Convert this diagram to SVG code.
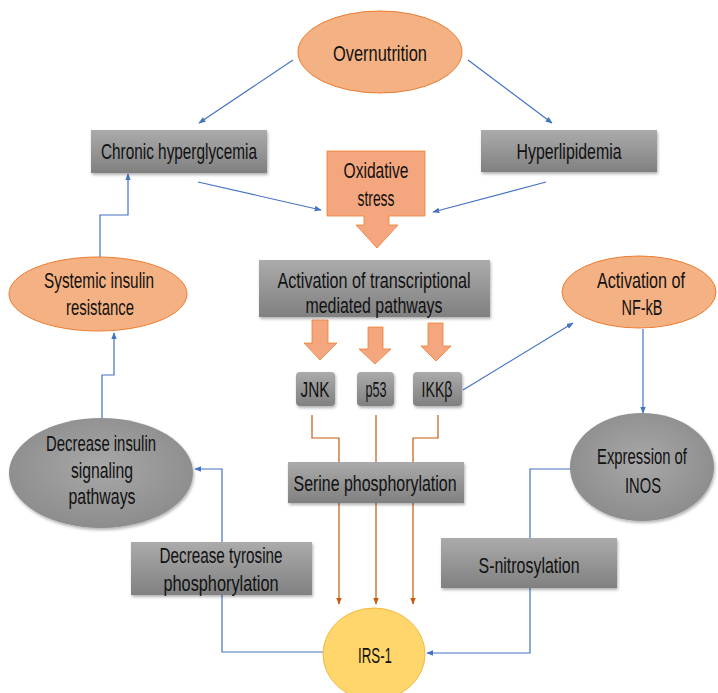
<svg xmlns="http://www.w3.org/2000/svg" width="718" height="693" viewBox="0 0 718 693">
  <defs>
    <linearGradient id="grayBox" x1="0" y1="0" x2="0" y2="1">
      <stop offset="0" stop-color="#ababab"/>
      <stop offset="1" stop-color="#808080"/>
    </linearGradient>
    <radialGradient id="grayOval" cx="0.5" cy="0.45" r="0.6">
      <stop offset="0" stop-color="#a8a8a8"/>
      <stop offset="1" stop-color="#8a8a8a"/>
    </radialGradient>
    <filter id="shadow" x="-10%" y="-10%" width="125%" height="135%">
      <feDropShadow dx="1" dy="2" stdDeviation="1.5" flood-color="#000" flood-opacity="0.3"/>
    </filter>
    <marker id="arrBlue" viewBox="0 0 10 10" refX="9" refY="5" markerWidth="7" markerHeight="7" orient="auto" markerUnits="userSpaceOnUse">
      <path d="M0,1 L10,5 L0,9 z" fill="#4472c4"/>
    </marker>
    <marker id="arrBrown" viewBox="0 0 10 10" refX="9" refY="5" markerWidth="7" markerHeight="7" orient="auto" markerUnits="userSpaceOnUse">
      <path d="M0,1 L10,5 L0,9 z" fill="#c55a11"/>
    </marker>
    <style>
      .lbl { font-family: "Liberation Sans", Arial, sans-serif; font-size: 22px; fill: #111111; text-anchor: middle; }
      .box { fill: url(#grayBox); filter: url(#shadow); }
      .goval { fill: url(#grayOval); filter: url(#shadow); }
      .salmon { fill: #f4b183; stroke: #ed7d31; stroke-width: 1; }
      .blue { fill: none; stroke: #4472c4; stroke-width: 1.2; }
      .brown { fill: none; stroke: #c55a11; stroke-width: 1.2; }
      .block { fill: #f4a67f; stroke: #ed7d31; stroke-width: 0.8; }
    </style>
  </defs>

  <rect width="718" height="693" fill="#ffffff"/>

  <!-- connectors (drawn beneath the nodes) -->
  <g id="connectors">
    <line class="blue" x1="293" y1="60" x2="199" y2="123" marker-end="url(#arrBlue)"/>
    <line class="blue" x1="468" y1="60" x2="552" y2="123" marker-end="url(#arrBlue)"/>
    <line class="blue" x1="198" y1="182" x2="321" y2="210" marker-end="url(#arrBlue)"/>
    <line class="blue" x1="546" y1="182" x2="433" y2="212" marker-end="url(#arrBlue)"/>
    <polyline class="blue" points="100,258 100,215 128,215 128,174" marker-end="url(#arrBlue)"/>
    <polyline class="blue" points="102,418 102,375 114,375 114,333" marker-end="url(#arrBlue)"/>
    <line class="blue" x1="463" y1="390" x2="573" y2="323" marker-end="url(#arrBlue)"/>
    <line class="blue" x1="643" y1="329" x2="643" y2="413" marker-end="url(#arrBlue)"/>
    <polyline class="blue" points="323,652 222,652 222,469 195,469" marker-end="url(#arrBlue)"/>
    <polyline class="blue" points="572,469 530,469 530,653 427,653" marker-end="url(#arrBlue)"/>
    <polyline class="brown" points="312,415 312,438 339,438 339,604" marker-end="url(#arrBrown)"/>
    <polyline class="brown" points="376,415 376,604" marker-end="url(#arrBrown)"/>
    <polyline class="brown" points="438,415 438,438 413,438 413,604" marker-end="url(#arrBrown)"/>
  </g>

  <g id="overnutrition">
    <ellipse class="salmon" cx="380" cy="52" rx="82" ry="41"/>
    <text class="lbl" x="380" y="61" textLength="94" lengthAdjust="spacingAndGlyphs">Overnutrition</text>
  </g>

  <g id="chronic-hyperglycemia">
    <rect class="box" x="91" y="130" width="176" height="43"/>
    <text class="lbl" x="179" y="159" textLength="156" lengthAdjust="spacingAndGlyphs">Chronic hyperglycemia</text>
  </g>

  <g id="hyperlipidemia">
    <rect class="box" x="481" y="130" width="176" height="42"/>
    <text class="lbl" x="569" y="159" textLength="105" lengthAdjust="spacingAndGlyphs">Hyperlipidemia</text>
  </g>

  <g id="oxidative-stress">
    <path class="block" d="M327,151 H425 V216 H389 V225 H398 L377,248 L356,225 H364 V216 H327 Z"/>
    <text class="lbl" x="376" y="178" textLength="65" lengthAdjust="spacingAndGlyphs">Oxidative</text>
    <text class="lbl" x="376" y="206" textLength="37" lengthAdjust="spacingAndGlyphs">stress</text>
  </g>

  <g id="transcriptional-pathways">
    <rect class="box" x="259" y="260" width="231" height="57"/>
    <text class="lbl" x="374" y="288" textLength="193" lengthAdjust="spacingAndGlyphs">Activation of transcriptional</text>
    <text class="lbl" x="374" y="313" textLength="137" lengthAdjust="spacingAndGlyphs">mediated pathways</text>
  </g>

  <g id="systemic-insulin-resistance">
    <ellipse class="salmon" cx="98" cy="294" rx="89" ry="37"/>
    <text class="lbl" x="99" y="288" textLength="110" lengthAdjust="spacingAndGlyphs">Systemic insulin</text>
    <text class="lbl" x="100" y="315" textLength="68" lengthAdjust="spacingAndGlyphs">resistance</text>
  </g>

  <g id="nf-kb">
    <ellipse class="salmon" cx="639" cy="292" rx="77" ry="36"/>
    <text class="lbl" x="641" y="288" textLength="88" lengthAdjust="spacingAndGlyphs">Activation of</text>
    <text class="lbl" x="642" y="315" textLength="41" lengthAdjust="spacingAndGlyphs">NF-kB</text>
  </g>

  <!-- three block arrows from the pathway box -->
  <g id="pathway-arrows">
    <path class="block" d="M312,320 H328 V343 H337 L320,360 L304,343 H312 Z"/>
    <path class="block" d="M368,327 H383 V349 H391 L375,364 L359,349 H368 Z"/>
    <path class="block" d="M428,323 H443 V346 H451 L436,361 L421,346 H428 Z"/>
  </g>

  <g id="jnk">
    <rect class="box" x="296" y="372" width="39" height="34" rx="4"/>
    <text class="lbl" x="315" y="397" textLength="29" lengthAdjust="spacingAndGlyphs">JNK</text>
  </g>

  <g id="p53">
    <rect class="box" x="357" y="372" width="37" height="34" rx="4"/>
    <text class="lbl" x="376" y="397" textLength="21" lengthAdjust="spacingAndGlyphs">p53</text>
  </g>

  <g id="ikkb">
    <rect class="box" x="413" y="372" width="49" height="34" rx="4"/>
    <text class="lbl" x="437" y="397" textLength="31" lengthAdjust="spacingAndGlyphs">IKKβ</text>
  </g>

  <g id="decrease-insulin-signaling">
    <ellipse class="goval" cx="101" cy="473" rx="92" ry="55"/>
    <text class="lbl" x="101" y="451" textLength="110" lengthAdjust="spacingAndGlyphs">Decrease insulin</text>
    <text class="lbl" x="102" y="478" textLength="62" lengthAdjust="spacingAndGlyphs">signaling</text>
    <text class="lbl" x="102" y="504" textLength="67" lengthAdjust="spacingAndGlyphs">pathways</text>
  </g>

  <g id="serine-phosphorylation">
    <rect class="box" x="288" y="462" width="176" height="41"/>
    <text class="lbl" x="375" y="491" textLength="163" lengthAdjust="spacingAndGlyphs">Serine phosphorylation</text>
  </g>

  <g id="inos">
    <ellipse class="goval" cx="642" cy="467" rx="72" ry="54"/>
    <text class="lbl" x="642" y="464" font-size="21" textLength="90" lengthAdjust="spacingAndGlyphs">Expression of</text>
    <text class="lbl" x="643" y="493" textLength="36" lengthAdjust="spacingAndGlyphs">INOS</text>
  </g>

  <g id="decrease-tyrosine">
    <rect class="box" x="131" y="542" width="181" height="53"/>
    <text class="lbl" x="221" y="563" textLength="123" lengthAdjust="spacingAndGlyphs">Decrease tyrosine</text>
    <text class="lbl" x="221" y="591" textLength="115" lengthAdjust="spacingAndGlyphs">phosphorylation</text>
  </g>

  <g id="s-nitrosylation">
    <rect class="box" x="441" y="538" width="176" height="50"/>
    <text class="lbl" x="529" y="573" textLength="101" lengthAdjust="spacingAndGlyphs">S-nitrosylation</text>
  </g>

  <g id="irs-1">
    <ellipse cx="374" cy="654" rx="51" ry="46" fill="#fed66c" stroke="#f4b942" stroke-width="1"/>
    <text class="lbl" x="375" y="663" textLength="34" lengthAdjust="spacingAndGlyphs">IRS-1</text>
  </g>
</svg>
